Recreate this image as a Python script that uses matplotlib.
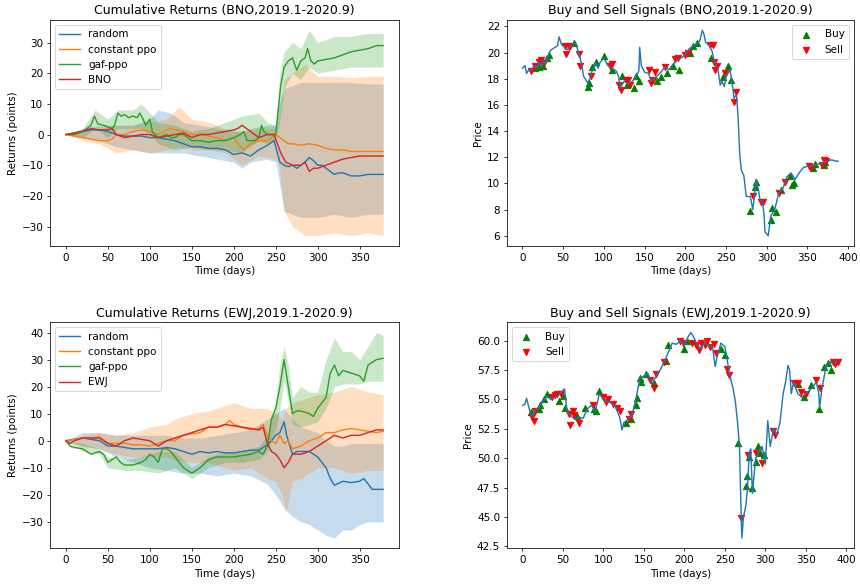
import matplotlib
matplotlib.use("Agg")
import matplotlib.pyplot as plt

plt.rcParams["font.size"] = 11

# ---------------- BNO cumulative returns ----------------
bno_rand_x = [0, 10, 20, 30, 40, 50, 60, 70, 80, 90, 100, 110, 120, 130, 140, 150, 160, 170, 180, 190, 200, 210, 215, 220, 230, 240, 248, 252, 255, 260, 265, 270, 275, 280, 285, 290, 295, 300, 305, 310, 315, 320, 325, 330, 340, 350, 360, 370, 378]
bno_rand_y = [0, 0.5, 1, 1.5, 1.5, 1, 0, -0.5, -0.5, -0.5, -1, -1, -1.5, -2, -3, -4, -4, -4.5, -4.5, -5, -6.5, -6, -6.5, -7, -5, -3.5, -2, -6, -9, -10, -10.5, -10, -11, -10, -9, -7.5, -8.5, -10, -10, -11, -12, -13, -12.5, -12.5, -13.5, -13.5, -13, -13, -13]
bno_rand_bx = [0, 20, 40, 60, 80, 100, 110, 125, 140, 160, 180, 200, 210, 220, 240, 250, 254, 260, 280, 300, 320, 340, 360, 378]
bno_rand_lo = [0, -1, -2, -4, -5, -6, -6, -6, -6, -7, -8, -9, -11, -9, -8, -9, -15, -25, -27, -27, -26, -27, -26, -26]
bno_rand_hi = [0, 2, 3, 3, 3, 5, 8, 7, 4, 3, 2, 1, 1, 2, 3, 3, 10, 15, 17, 17, 17, 17, 16.5, 16.5]

bno_ppo_x = [0, 10, 20, 30, 40, 50, 55, 60, 70, 80, 90, 100, 110, 120, 125, 130, 140, 150, 160, 170, 180, 190, 200, 205, 212, 220, 230, 240, 250, 255, 260, 265, 270, 280, 290, 300, 310, 320, 330, 340, 350, 360, 370, 378]
bno_ppo_y = [0, -0.5, -1, -1.5, -2, -2, -1.5, 0, 0, 1, 1.5, 1, 0, 1.5, 2, 1.5, 1, 0, 0, -0.5, -1, -2, -1, -3, -5, -3, -2, -2, 0, -1, -2, -3, -3, -3.5, -3, -3.5, -4.5, -5, -5, -5.5, -5.5, -5.5, -5.5, -5.5]
bno_ppo_bx = [0, 20, 40, 60, 80, 100, 120, 135, 150, 170, 190, 210, 230, 250, 254, 260, 270, 285, 300, 320, 340, 360, 378]
bno_ppo_lo = [0, -2, -3, -6, -5, -6, -5, -4, -5, -5, -6, -10, -7, -8, -10, -25, -30, -33, -33, -32, -33, -32, -33]
bno_ppo_hi = [0, 1, 2, 3, 3, 4, 5, 9, 5, 4, 2, 1, 2, 2, 5, 18, 20, 23, 19, 19, 18.5, 19, 19]

bno_gaf_x = [0, 10, 15, 20, 25, 30, 34, 38, 45, 50, 55, 58, 62, 66, 70, 75, 80, 85, 88, 92, 95, 100, 103, 106, 110, 115, 120, 125, 130, 135, 140, 150, 160, 170, 180, 190, 200, 208, 212, 216, 225, 230, 233, 236, 240, 245, 250, 253, 256, 260, 265, 270, 275, 280, 285, 288, 292, 296, 300, 310, 320, 330, 340, 350, 360, 370, 378]
bno_gaf_y = [0, 0, 0.5, 1, 2, 3, 6, 3.5, 3, 2.5, 2, 3, 7, 6, 6.5, 5.5, 6, 5.5, 7, 5, 3, 5, 1, 0, -1, -0.5, 0, -1, -1, 0, 0, -2, -2, -2.5, -2, -2, -1, 0, 1, -2, -2, -1, 3, 1, 0, 0, 0, 8, 16, 22, 24, 25, 21, 24, 25, 28, 24, 23, 24, 24.5, 25, 26, 27, 27.5, 28, 29, 29]
bno_gaf_bx = [0, 20, 35, 50, 62, 80, 90, 100, 110, 130, 150, 170, 190, 210, 230, 240, 250, 255, 260, 270, 280, 290, 300, 320, 340, 360, 378]
bno_gaf_lo = [0, -1, 2, -1, 2, 2, 2, 0, -3, -5, -4, -5, -5, -6, -2, -3, -2, 5, 15, 20, 18, 22, 20, 21, 22, 22, 22]
bno_gaf_hi = [0, 2, 8, 5, 8, 8, 10, 7, 4, 3, 1, 2, 4, 6, 7, 4, 3, 20, 27, 30, 28, 34, 30, 32, 32, 33, 33]

bno_bm_x = [0, 10, 20, 30, 40, 50, 55, 60, 70, 80, 90, 100, 110, 120, 130, 140, 150, 160, 170, 180, 190, 200, 205, 210, 215, 220, 230, 240, 248, 252, 256, 262, 270, 280, 285, 290, 295, 300, 310, 320, 330, 340, 350, 360, 370, 378]
bno_bm_y = [0, 0.5, 1, 2, 1.5, 1.5, 2, 0, -1, -0.5, 0, 0, -1, -0.5, 0, 0.5, -1, 0, 0, 0.5, 1, 1.5, 2, 3, 2, 1, -1, 0, 0, -3, -6, -9, -10, -10, -9, -12, -11, -11, -10, -9, -8, -7.5, -7, -7, -7, -7]

# ---------------- BNO price & signals ----------------
bno_px_x = [0, 3, 5, 8, 10, 13, 15, 18, 20, 23, 25, 28, 30, 33, 35, 40, 43, 45, 48, 50, 55, 60, 65, 68, 70, 73, 75, 78, 80, 83, 85, 88, 90, 93, 95, 100, 103, 105, 110, 115, 118, 120, 123, 125, 130, 135, 140, 143, 144, 146, 150, 155, 158, 160, 165, 170, 175, 180, 185, 190, 195, 200, 205, 210, 215, 218, 221, 223, 225, 230, 233, 235, 238, 240, 243, 245, 248, 250, 255, 258, 260, 263, 265, 267, 269, 272, 275, 280, 283, 285, 287, 290, 292, 295, 297, 298, 302, 305, 310, 315, 320, 325, 330, 335, 340, 345, 350, 355, 360, 365, 370, 375, 380, 385, 388]
bno_px_y = [18.8, 19.0, 18.4, 18.7, 18.6, 18.9, 19.0, 18.8, 19.3, 19.0, 19.4, 19.1, 19.5, 20.0, 20.2, 20.4, 20.5, 21.2, 20.6, 20.5, 20.2, 20.6, 20.7, 20.2, 19.8, 19.0, 18.2, 17.9, 17.7, 18.0, 18.5, 18.9, 19.2, 18.8, 19.2, 19.6, 19.2, 19.0, 18.8, 18.6, 18.2, 17.3, 17.6, 17.8, 17.6, 17.8, 18.2, 18.6, 20.4, 19.0, 18.5, 18.4, 17.8, 17.9, 18.2, 18.5, 18.9, 18.7, 19.1, 19.4, 19.6, 19.8, 20.3, 20.5, 20.7, 20.9, 21.7, 21.4, 20.8, 20.5, 20.1, 19.5, 19.0, 18.8, 17.5, 17.8, 17.4, 18.1, 18.7, 17.5, 16.5, 16.8, 15.0, 12.2, 11.0, 10.6, 9.0, 9.0, 8.0, 9.0, 10.3, 9.5, 8.7, 8.6, 7.5, 6.3, 6.0, 7.5, 8.0, 9.3, 9.6, 10.5, 10.8, 10.3, 10.8, 11.2, 11.3, 11.3, 11.4, 11.5, 11.6, 11.7, 11.8, 11.7, 11.7]
bno_buy_x = [15, 20, 25, 30, 32, 63, 80, 82, 86, 90, 100, 110, 122, 128, 137, 140, 143, 165, 170, 177, 185, 192, 206, 210, 215, 232, 246, 253, 256, 280, 286, 287, 305, 307, 311, 318, 329, 331, 334, 357, 359, 370, 372]
bno_buy_y = [18.8, 18.9, 19.0, 19.6, 19.8, 20.7, 17.4, 17.7, 18.9, 19.3, 19.7, 18.7, 18.2, 17.5, 17.3, 18.2, 17.8, 17.8, 18.1, 18.4, 19.0, 18.7, 20.0, 20.5, 20.7, 19.6, 18.1, 19.0, 17.9, 7.9, 9.7, 10.1, 7.2, 8.1, 7.8, 9.5, 10.6, 9.9, 10.0, 11.2, 11.5, 11.4, 11.6]
bno_sell_x = [10, 15, 20, 23, 26, 52, 54, 57, 59, 69, 71, 84, 107, 110, 119, 121, 127, 130, 132, 155, 158, 160, 163, 175, 188, 191, 200, 203, 230, 234, 235, 237, 239, 249, 260, 262, 283, 293, 296, 315, 323, 352, 355, 368, 370, 373]
bno_sell_y = [18.6, 19.0, 19.3, 19.4, 19.2, 20.5, 19.9, 20.4, 20.5, 19.9, 19.0, 18.2, 19.0, 19.1, 17.5, 17.1, 17.9, 17.9, 17.5, 18.7, 17.7, 17.9, 18.5, 18.9, 19.5, 19.6, 19.8, 20.0, 20.6, 20.6, 19.3, 18.7, 19.0, 18.4, 16.2, 17.0, 9.0, 8.6, 8.6, 9.3, 10.1, 11.3, 11.2, 11.4, 11.8, 11.7]

# ---------------- EWJ cumulative returns ----------------
ewj_rand_x = [0, 10, 20, 30, 40, 50, 60, 70, 80, 90, 100, 110, 120, 130, 140, 150, 160, 170, 180, 190, 200, 210, 220, 230, 240, 245, 250, 255, 260, 263, 266, 270, 275, 280, 290, 300, 305, 310, 315, 320, 330, 340, 350, 355, 360, 365, 370, 378]
ewj_rand_y = [0, 0.5, 1, 0.5, 0, -2, -2, -2.5, -3, -3, -3, -3, -2.5, -3, -4, -5, -4, -4.5, -4, -4.5, -4.5, -4, -3.5, -3.5, -1.5, 0, 2, 3, 7, 2, -1, -5, -4, -4, -4, -6, -8, -10, -14, -16.5, -15, -15.5, -15, -14, -16, -18, -18, -18]
ewj_rand_bx = [0, 20, 40, 60, 80, 100, 120, 140, 160, 180, 200, 220, 240, 250, 260, 270, 280, 290, 300, 310, 320, 330, 340, 350, 360, 378]
ewj_rand_lo = [0, -2, -3, -6, -8, -10, -11, -12, -12, -13, -12, -13, -16, -20, -25, -28, -30, -31, -33, -35, -36, -33, -33, -31, -30, -30]
ewj_rand_hi = [0, 3, 3, 2, 2, 2, 2, 1, 1, 2, 3, 4, 8, 10, 12, 8, 5, 4, 3, 0, -2, -2, -1, -1, -1, -1]

ewj_ppo_x = [0, 10, 20, 30, 40, 50, 60, 70, 80, 90, 100, 110, 120, 130, 140, 150, 160, 170, 180, 190, 195, 200, 210, 220, 230, 235, 240, 245, 250, 255, 260, 265, 270, 280, 290, 300, 310, 320, 330, 340, 350, 360, 370, 378]
ewj_ppo_y = [0, 0.5, 1, 1, 1.5, -1, -1, -1, -1.5, -1.5, -2, -1, 0, 0, 2, 2.5, 3, 5, 5, 6, 7.5, 6, 5, 4, 4.5, 6, 2, 0, -1, 2, -1, 0, -3, -2, 0, 1, 3, 3, 4, 4.5, 4, 3.5, 3, 3.5]
ewj_ppo_bx = [0, 20, 40, 60, 80, 100, 120, 130, 150, 170, 190, 200, 220, 240, 250, 258, 262, 270, 280, 300, 320, 340, 360, 378]
ewj_ppo_lo = [0, -2, -3, -5, -6, -6, -6, -7, -8, -8, -10, -11, -10, -14, -15, -20, -27, -15, -14, -10, -10, -12, -11, -11]
ewj_ppo_hi = [0, 2, 3, 2, 3, 5, 6, 8, 10, 11, 13, 14, 12, 12, 10, 8, 12, 14, 15, 17, 18, 20, 18, 17]

ewj_gaf_x = [0, 5, 10, 20, 30, 40, 45, 50, 55, 60, 65, 70, 80, 90, 95, 100, 105, 110, 115, 120, 125, 130, 140, 150, 155, 160, 170, 180, 190, 200, 210, 220, 230, 235, 240, 245, 250, 255, 260, 263, 266, 270, 275, 280, 290, 295, 300, 305, 310, 315, 320, 325, 330, 340, 350, 355, 360, 370, 378]
ewj_gaf_y = [0, -2, -2.5, -3, -5, -4, -5, -8, -7, -6, -8, -9, -9, -8, -7, -5, -6, -8, -3, -3, -4, -6, -10, -12, -11, -10, -7, -6, -6, -6, -5.5, -5, -4, -5, -2, 8, 12, 20, 30, 24, 18, 10, 11, 11, 10, 9, 12, 14, 16, 25, 28, 24, 26, 25, 24, 22, 28, 30, 30.5]
ewj_gaf_bx = [0, 20, 40, 50, 70, 90, 110, 130, 150, 170, 190, 210, 230, 240, 250, 255, 260, 265, 270, 280, 290, 300, 310, 320, 330, 340, 350, 360, 370, 378]
ewj_gaf_lo = [0, -4, -5, -10, -11, -11, -12, -10, -14, -10, -8, -8, -7, -4, 4, 12, 22, 15, 6, 5, 6, 7, 12, 20, 21, 21, 21, 22, 22, 22]
ewj_gaf_hi = [0, -1, -3, -6, -7, -6, -4, -4, -10, -6, -4, -4, -2, 2, 14, 28, 35, 28, 16, 20, 18, 18, 30, 38, 33, 33, 30, 35, 40, 39]

ewj_bm_x = [0, 5, 10, 20, 30, 40, 50, 60, 70, 80, 90, 100, 110, 120, 130, 140, 150, 160, 170, 180, 190, 200, 210, 220, 230, 235, 240, 245, 250, 255, 260, 265, 270, 280, 290, 300, 310, 320, 330, 340, 350, 360, 370, 378]
ewj_bm_y = [0, -1, 0, 1, 1, 1, -1, -2, 0, 1, 0.5, 0, -2, 0, 1, 2, 3, 4, 5, 5, 6, 5.5, 5, 4.5, 4, 5, -1, -4, -5, -7, -10, -8, -5, -5, -4, -2, 0, 2, 1, 2, 2, 3, 4, 4]

# ---------------- EWJ price & signals ----------------
ewj_px_x = [0, 3, 5, 8, 10, 13, 15, 20, 25, 30, 35, 40, 45, 50, 52, 55, 60, 65, 70, 75, 80, 85, 90, 95, 100, 105, 110, 115, 120, 123, 125, 130, 135, 140, 145, 150, 155, 160, 165, 170, 175, 180, 185, 190, 195, 200, 205, 208, 210, 215, 220, 225, 230, 235, 238, 240, 245, 250, 255, 258, 260, 263, 266, 268, 270, 271, 273, 276, 278, 280, 282, 284, 288, 292, 296, 300, 303, 306, 310, 314, 318, 322, 325, 328, 330, 332, 335, 340, 345, 350, 355, 360, 363, 366, 367, 370, 375, 380, 385, 388]
ewj_px_y = [54.5, 54.6, 55.1, 54.3, 53.8, 53.5, 54.0, 54.3, 54.8, 55.3, 55.0, 55.2, 55.4, 55.8, 55.9, 54.0, 53.6, 53.3, 53.5, 53.4, 54.2, 54.5, 54.0, 55.5, 55.0, 54.8, 54.7, 54.4, 53.5, 52.4, 53.0, 53.3, 53.6, 55.0, 56.8, 57.0, 57.2, 56.3, 57.0, 57.5, 58.2, 59.0, 59.8, 59.7, 60.0, 59.6, 60.4, 60.7, 60.5, 59.8, 59.3, 59.8, 59.6, 59.4, 57.8, 58.5, 59.8, 59.5, 57.5, 56.5, 56.0, 54.8, 52.8, 51.0, 45.5, 43.2, 45.0, 46.0, 47.5, 50.5, 50.8, 47.0, 50.0, 50.5, 51.0, 49.5, 53.2, 51.0, 52.5, 52.0, 53.0, 55.5, 56.5, 57.9, 57.5, 55.5, 56.5, 55.5, 55.2, 55.5, 55.8, 56.2, 56.5, 55.5, 54.3, 56.0, 57.8, 58.2, 58.0, 58.3]
ewj_buy_x = [10, 20, 22, 26, 30, 45, 50, 53, 67, 77, 88, 91, 95, 128, 134, 140, 142, 145, 146, 152, 162, 177, 180, 200, 203, 245, 250, 266, 276, 277, 280, 284, 288, 291, 293, 298, 340, 348, 357, 366, 372, 377, 381]
ewj_buy_y = [53.9, 54.2, 54.5, 55.0, 55.5, 54.9, 55.3, 54.3, 53.6, 54.3, 54.2, 54.0, 55.7, 53.0, 53.3, 54.5, 55.1, 56.8, 56.5, 57.2, 56.4, 58.3, 59.6, 59.3, 60.0, 59.3, 58.8, 51.3, 47.6, 48.5, 50.1, 47.5, 49.7, 51.0, 50.4, 50.3, 56.3, 55.2, 56.2, 54.2, 57.8, 58.1, 57.5]
ewj_sell_x = [12, 14, 15, 37, 40, 43, 47, 58, 59, 62, 64, 70, 87, 100, 103, 106, 112, 117, 120, 131, 134, 158, 162, 165, 175, 194, 198, 210, 214, 218, 221, 225, 228, 232, 236, 239, 253, 255, 270, 279, 288, 296, 310, 312, 336, 340, 344, 350, 362, 368, 383, 386, 390]
ewj_sell_y = [53.5, 53.2, 54.0, 55.2, 55.4, 55.5, 55.5, 53.8, 52.8, 54.0, 53.7, 53.0, 54.5, 55.2, 54.8, 55.0, 54.6, 54.3, 54.0, 53.3, 53.8, 56.7, 56.0, 57.2, 58.2, 60.0, 59.8, 59.8, 59.6, 59.2, 59.8, 59.6, 60.0, 59.5, 59.7, 59.0, 57.6, 57.1, 44.9, 50.3, 50.4, 49.6, 52.3, 52.0, 56.4, 56.4, 55.6, 55.5, 56.7, 56.0, 58.2, 58.0, 58.2]

W, H = 860, 586
DPI = 68
fig = plt.figure(figsize=(W / DPI, H / DPI), dpi=DPI)

pos = {
    "tl": [50 / W, 1 - 246 / H, 349 / W, 226 / H],
    "tr": [506.7 / W, 1 - 246 / H, 347.3 / W, 226 / H],
    "bl": [50 / W, 1 - 548.3 / H, 349 / W, 226 / H],
    "br": [506.7 / W, 1 - 548.3 / H, 347.3 / W, 226 / H],
}


def returns_panel(ax, name, rand, ppo, gaf, bm):
    series = [("random", "C0", rand), ("constant ppo", "C1", ppo), ("gaf-ppo", "C2", gaf)]
    for label, col, (x, y, bx, lo, hi) in series:
        ax.plot(x, y, color=col, label=label)
        ax.fill_between(bx, lo, hi, color=col, alpha=0.25, linewidth=0)
    ax.plot(bm[0], bm[1], color="C3", label=name)
    ax.set_title(f"Cumulative Returns ({name},2019.1-2020.9)")
    ax.set_xlabel("Time (days)")
    ax.set_ylabel("Returns (points)")
    ax.legend(loc="upper left")


def signal_panel(ax, name, px, buy, sell, loc):
    ax.scatter(buy[0], buy[1], marker="^", color="g", s=45, label="Buy", zorder=3)
    ax.scatter(sell[0], sell[1], marker="v", color="r", s=45, label="Sell", zorder=3)
    ax.plot(px[0], px[1], color="C0", zorder=4)
    ax.set_title(f"Buy and Sell Signals ({name},2019.1-2020.9)")
    ax.set_xlabel("Time (days)")
    ax.set_ylabel("Price")
    ax.legend(loc=loc)


ax1 = fig.add_axes(pos["tl"])
returns_panel(ax1, "BNO",
              (bno_rand_x, bno_rand_y, bno_rand_bx, bno_rand_lo, bno_rand_hi),
              (bno_ppo_x, bno_ppo_y, bno_ppo_bx, bno_ppo_lo, bno_ppo_hi),
              (bno_gaf_x, bno_gaf_y, bno_gaf_bx, bno_gaf_lo, bno_gaf_hi),
              (bno_bm_x, bno_bm_y))

ax2 = fig.add_axes(pos["tr"])
signal_panel(ax2, "BNO", (bno_px_x, bno_px_y), (bno_buy_x, bno_buy_y),
             (bno_sell_x, bno_sell_y), "upper right")

ax3 = fig.add_axes(pos["bl"])
returns_panel(ax3, "EWJ",
              (ewj_rand_x, ewj_rand_y, ewj_rand_bx, ewj_rand_lo, ewj_rand_hi),
              (ewj_ppo_x, ewj_ppo_y, ewj_ppo_bx, ewj_ppo_lo, ewj_ppo_hi),
              (ewj_gaf_x, ewj_gaf_y, ewj_gaf_bx, ewj_gaf_lo, ewj_gaf_hi),
              (ewj_bm_x, ewj_bm_y))

ax4 = fig.add_axes(pos["br"])
signal_panel(ax4, "EWJ", (ewj_px_x, ewj_px_y), (ewj_buy_x, ewj_buy_y),
             (ewj_sell_x, ewj_sell_y), "upper left")

fig.savefig("out.png", dpi=DPI)
